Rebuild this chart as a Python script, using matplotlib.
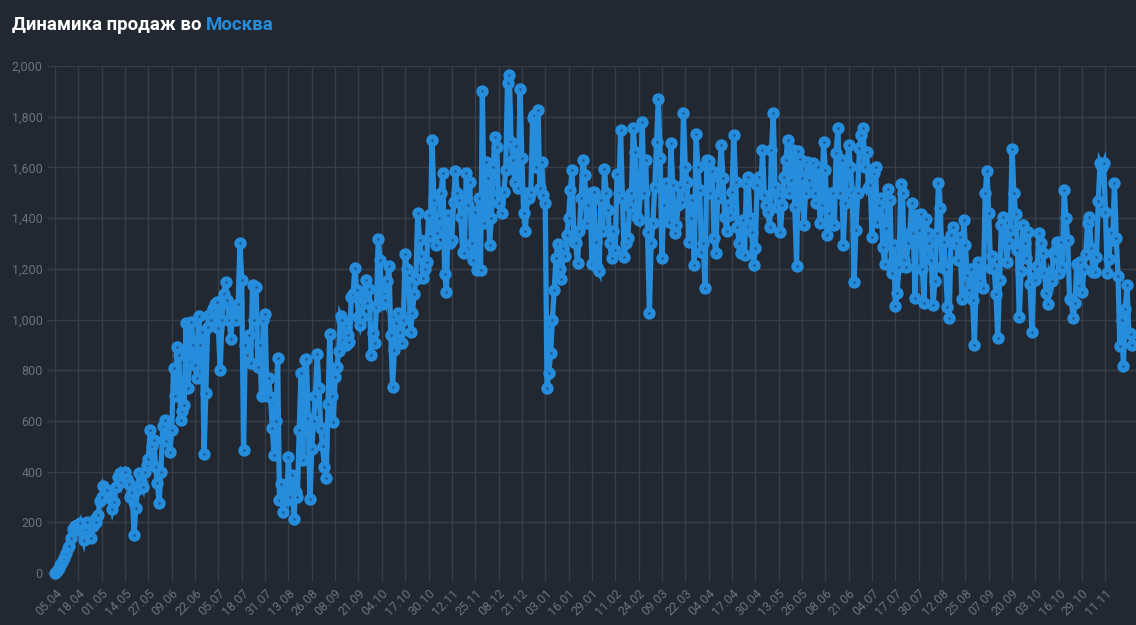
import numpy as np
import matplotlib
matplotlib.use("Agg")
import matplotlib.pyplot as plt
from matplotlib.ticker import FuncFormatter

plt.rcParams['font.family'] = ['Roboto', 'DejaVu Sans']

# ежедневные продажи, с 05.04
sales = [
    0, 8, 20, 30, 45, 60, 80, 100, 105, 140, 175, 185, 190,
    180, 197, 160, 130, 170, 200, 150, 140, 185, 213, 200, 230, 284,
    300, 343, 330, 327, 300, 290, 252, 280, 340, 380, 394, 360, 390,
    398, 370, 350, 300, 320, 150, 256, 330, 394, 360, 340, 400, 426,
    450, 564, 500, 525, 420, 355, 276, 400, 580, 604, 520, 560, 477,
    564, 809, 700, 892, 860, 604, 640, 663, 986, 730, 832, 990, 900,
    820, 769, 1014, 900, 950, 469, 710, 970, 1018, 1000, 1040, 1060, 1069,
    966, 801, 1000, 1100, 1148, 1077, 1000, 923, 1050, 1049, 1000, 1060, 1302,
    1156, 485, 900, 860, 940, 828, 1136, 1000, 1128, 813, 900, 698, 1000,
    1022, 702, 769, 694, 572, 465, 600, 848, 288, 350, 241, 300, 288,
    458, 300, 387, 213, 320, 300, 564, 789, 446, 840, 844, 611, 292,
    489, 600, 700, 864, 730, 572, 500, 420, 375, 667, 943, 700, 596,
    773, 813, 876, 1014, 998, 950, 899, 940, 911, 1089, 1100, 1203, 1116,
    1010, 980, 1010, 1080, 1156, 1065, 1120, 860, 947, 907, 1049, 1318, 1235,
    1061, 1100, 1077, 1150, 1211, 939, 734, 880, 986, 1026, 950, 907, 1000,
    1258, 1200, 1176, 951, 1026, 1101, 1160, 1420, 1314, 1250, 1164, 1200, 1227,
    1412, 1330, 1708, 1472, 1294, 1341, 1400, 1500, 1578, 1180, 1109, 1412, 1300,
    1314, 1464, 1586, 1500, 1472, 1404, 1266, 1262, 1578, 1450, 1542, 1300, 1235,
    1424, 1195, 1479, 1195, 1901, 1381, 1621, 1558, 1294, 1400, 1602, 1720, 1680,
    1460, 1500, 1420, 1503, 1590, 1933, 1965, 1700, 1629, 1542, 1684, 1519, 1909,
    1637, 1420, 1349, 1500, 1479, 1503, 1795, 1807, 1602, 1826, 1519, 1621, 1491,
    1460, 730, 789, 868, 1000, 1116, 1243, 1298, 1200, 1160, 1282, 1250, 1333,
    1400, 1511, 1590, 1306, 1300, 1223, 1350, 1479, 1629, 1570, 1381, 1450, 1500,
    1219, 1503, 1306, 1207, 1191, 1472, 1350, 1594, 1500, 1432, 1300, 1243, 1350,
    1274, 1574, 1500, 1748, 1479, 1247, 1300, 1322, 1444, 1500, 1755, 1661, 1404,
    1392, 1500, 1779, 1500, 1629, 1345, 1026, 1300, 1381, 1523, 1700, 1870, 1637,
    1243, 1450, 1539, 1400, 1385, 1696, 1531, 1341, 1373, 1450, 1523, 1464, 1815,
    1600, 1542, 1306, 1400, 1472, 1215, 1732, 1600, 1511, 1266, 1300, 1124, 1629,
    1625, 1500, 1586, 1322, 1262, 1479, 1562, 1688, 1558, 1404, 1350, 1450, 1412,
    1503, 1728, 1542, 1365, 1300, 1262, 1392, 1254, 1539, 1562, 1400, 1345, 1215,
    1282, 1531, 1562, 1500, 1669, 1491, 1450, 1424, 1365, 1669, 1815, 1523, 1444,
    1479, 1345, 1450, 1562, 1629, 1708, 1499, 1550, 1669, 1444, 1211, 1665, 1633,
    1558, 1373, 1500, 1621, 1550, 1519, 1617, 1499, 1460, 1600, 1381, 1450, 1700,
    1590, 1333, 1420, 1500, 1499, 1373, 1657, 1755, 1500, 1629, 1294, 1460, 1598,
    1688, 1600, 1503, 1148, 1353, 1499, 1677, 1728, 1755, 1600, 1661, 1519, 1531,
    1326, 1578, 1602, 1385, 1450, 1479, 1286, 1219, 1361, 1515, 1472, 1184, 1294,
    1053, 1105, 1207, 1535, 1499, 1235, 1207, 1302, 1341, 1460, 1341, 1085, 1412,
    1353, 1416, 1200, 1065, 1397, 1341, 1300, 1235, 1057, 1150, 1341, 1539, 1440,
    1207, 1306, 1200, 1049, 1006, 1333, 1365, 1300, 1302, 1235, 1326, 1081, 1392,
    1294, 1176, 1116, 1200, 1077, 899, 1148, 1227, 1150, 1128, 1124, 1499, 1586,
    1420, 1203, 1250, 1203, 1100, 927, 1156, 1373, 1404, 1353, 1227, 1300, 1353,
    1673, 1500, 1416, 1274, 1010, 1191, 1373, 1300, 1243, 1345, 1140, 951, 1164,
    1156, 1211, 1341, 1300, 1262, 1184, 1105, 1061, 1172, 1152, 1262, 1250, 1306,
    1184, 1306, 1207, 1511, 1400, 1314, 1081, 1077, 1006, 1065, 1219, 1132, 1227,
    1108, 1199, 1258, 1381, 1404, 1282, 1188, 1188, 1247, 1468, 1617, 1600, 1617,
    1424, 1184, 1239, 1341, 1314, 1539, 1322, 1172, 895, 1000, 817, 1041, 1136,
    947, 943, 899,
]

date_labels = [
    "05.04", "18.04", "01.05", "14.05", "27.05", "09.06", "22.06", "05.07",
    "18.07", "31.07", "13.08", "26.08", "08.09", "21.09", "04.10", "17.10",
    "30.10", "12.11", "25.11", "08.12", "21.12", "03.01", "16.01", "29.01",
    "11.02", "24.02", "09.03", "22.03", "04.04", "17.04", "30.04", "13.05",
    "26.05", "08.06", "21.06", "04.07", "17.07", "30.07", "12.08", "25.08",
    "07.09", "20.09", "03.10", "16.10", "29.10", "11.11",
]
tick_step = 13

city = "Москва"

bg = '#222831'
grid_col = '#373e48'
label_col = '#6b727b'
blue = '#268cdc'

fig = plt.figure(figsize=(11.36, 6.25), dpi=100, facecolor=bg)
ax = fig.add_axes([55 / 1136, 52 / 625, 1081 / 1136, 507 / 625])
ax.set_facecolor(bg)

x = np.arange(len(sales))
ax.plot(x, sales, color=blue, lw=3.8, marker='o', ms=5.5, mfc='#1d62a0',
        mec=blue, mew=3.4, solid_joinstyle='miter', clip_on=False, zorder=3)

ax.set_xlim(0, 602)
ax.set_ylim(0, 2000)
ax.set_yticks(range(0, 2001, 200))
ax.yaxis.set_major_formatter(FuncFormatter(lambda v, p: f"{int(v):,}"))
ax.set_xticks(np.arange(len(date_labels)) * tick_step)
ax.set_xticklabels(date_labels, rotation=45, ha='right', va='top',
                   rotation_mode='anchor')

ax.grid(True, color=grid_col, lw=1)
ax.set_axisbelow(True)
for s in ax.spines.values():
    s.set_visible(False)
ax.tick_params(colors=grid_col, labelcolor=label_col, length=6, width=1,
               labelsize=9)
ax.tick_params(axis='x', pad=4)
ax.tick_params(axis='y', pad=3)

# заголовок в две краски
t1 = fig.text(12 / 1136, 1 - 25 / 625, "Динамика продаж во ", color='white',
              fontsize=13.4, fontweight='bold', va='center', ha='left')
fig.canvas.draw()
bb = t1.get_window_extent()
fig.text(bb.x1 / fig.bbox.width, 1 - 25 / 625, city, color=blue,
         fontsize=13.4, fontweight='bold', va='center', ha='left')

fig.savefig("out.png", dpi=100, facecolor=bg)
